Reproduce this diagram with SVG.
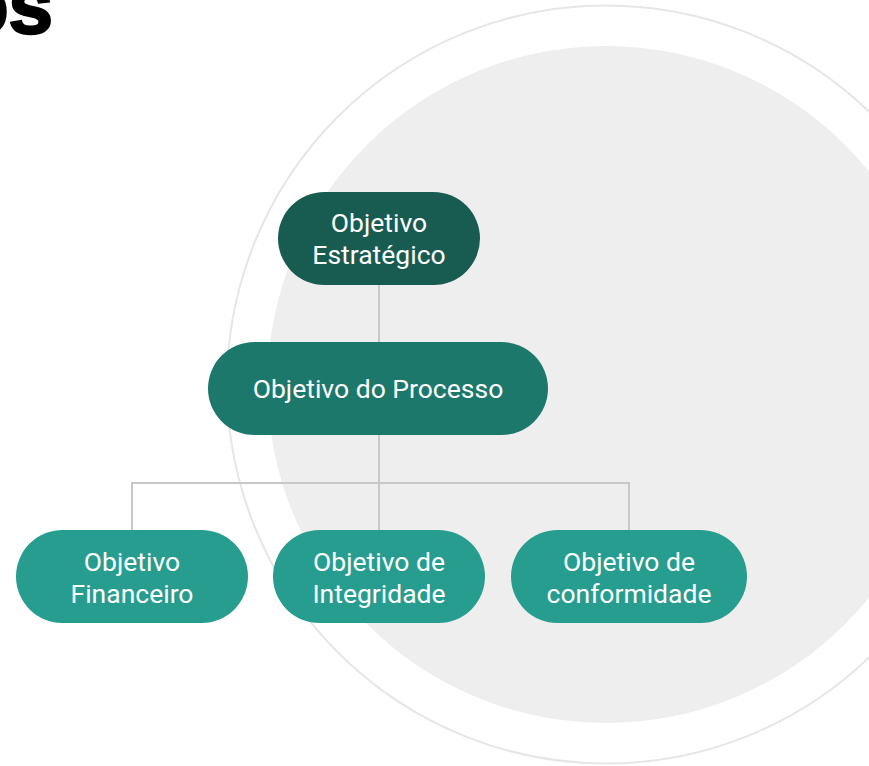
<svg xmlns="http://www.w3.org/2000/svg" width="869" height="766" viewBox="0 0 869 766">
<style>
.lbl{font-family:Roboto,"Liberation Sans",sans-serif;font-size:26.5px;fill:#ffffff;text-anchor:middle}
.con{stroke:#c8c8c8;stroke-width:2;fill:none}
.n1{fill:#185b51}
.n2{fill:#1d786c}
.n3{fill:#269d8f}
</style>
<rect width="869" height="766" fill="#ffffff"/>
<g id="background">
<circle cx="606" cy="384.5" r="379" fill="none" stroke="#e6e6e6" stroke-width="2"/>
<circle cx="606" cy="384.5" r="338.5" fill="#eeeeee"/>
<text x="53" y="33" font-family="Liberation Sans, Arial, sans-serif" font-weight="900" font-size="80" text-anchor="end" fill="#000000" stroke="#000000" stroke-width="2.5">os</text>
</g>
<g id="connectors">
<path class="con" d="M379 285 V342"/>
<path class="con" d="M379 435 V483"/>
<path class="con" d="M132 530 V483 H629 V530"/>
<path class="con" d="M379 483 V530"/>
</g>
<g id="node-estrategico">
<rect class="n1" x="278" y="192" width="202" height="93" rx="46.5"/>
<text class="lbl" x="379" y="232">Objetivo</text>
<text class="lbl" x="379" y="264">Estratégico</text>
</g>
<g id="node-processo">
<rect class="n2" x="208" y="342" width="340" height="93" rx="46.5"/>
<text class="lbl" x="378" y="398">Objetivo do Processo</text>
</g>
<g id="node-financeiro">
<rect class="n3" x="16" y="530" width="232" height="93" rx="46.5"/>
<text class="lbl" x="132" y="571">Objetivo</text>
<text class="lbl" x="132" y="603">Financeiro</text>
</g>
<g id="node-integridade">
<rect class="n3" x="273" y="530" width="212" height="93" rx="46.5"/>
<text class="lbl" x="379" y="571">Objetivo de</text>
<text class="lbl" x="379" y="603">Integridade</text>
</g>
<g id="node-conformidade">
<rect class="n3" x="511" y="530" width="236" height="93" rx="46.5"/>
<text class="lbl" x="629" y="571">Objetivo de</text>
<text class="lbl" x="629" y="603">conformidade</text>
</g>
</svg>
